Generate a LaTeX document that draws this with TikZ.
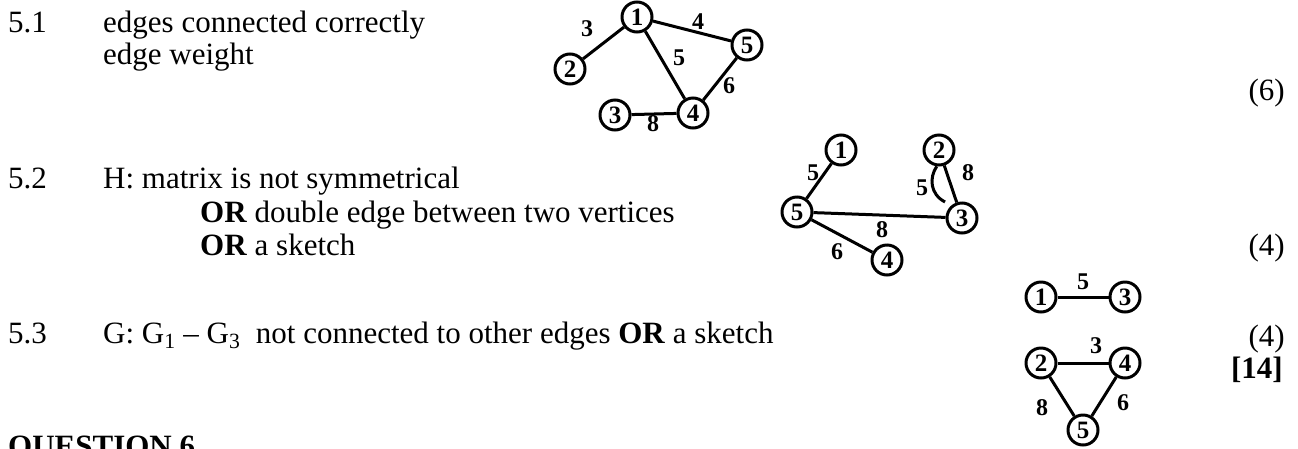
\documentclass[tikz,border=0pt]{standalone}
\usepackage{fontspec}
\setmainfont{Liberation Serif}
\usetikzlibrary{positioning}

\begin{document}
\begin{tikzpicture}[x=1pt,y=-1pt,
    txt/.style={inner sep=0pt,anchor=base west,font=\fontsize{31}{33}\selectfont},
    score/.style={inner sep=0pt,anchor=base east,font=\fontsize{31}{33}\selectfont},
    vtx/.style={circle,draw,line width=3pt,minimum size=30pt,inner sep=0pt,font=\fontsize{25}{25}\selectfont\bfseries},
    wt/.style={inner sep=0pt,font=\fontsize{24}{24}\selectfont\bfseries},
    edge/.style={line width=3pt}
  ]
  \useasboundingbox (0,0) rectangle (1298,448);

  % answer text
  \node[txt] (n51) at (8,32) {5.1};
  \node[txt] (t51a) at (103,32) {edges connected correctly};
  \node[txt] (t51b) at (103,64) {edge weight};
  \node[txt] (n52) at (8,188) {5.2};
  \node[txt] (t52a) at (103,188) {H: matrix is not symmetrical};
  \node[txt] (t52b) at (200,222) {\textbf{OR} double edge between two vertices};
  \node[txt] (t52c) at (200,255) {\textbf{OR} a sketch};
  \node[txt] (n53) at (8,343) {5.3};
  \node[txt] (t53) at (103,343) {G: G\textsubscript{1} – G\textsubscript{3}\ \ not connected to other edges \textbf{OR} a sketch};
  \node[txt,font=\fontsize{31}{33}\selectfont\bfseries] (q6) at (8,456) {QUESTION 6};

  % marks
  \node[score] (m51) at (1285,100) {(6)};
  \node[score] (m52) at (1285,255) {(4)};
  \node[score] (m53) at (1285,346) {(4)};
  \node[score,font=\fontsize{31}{33}\selectfont\bfseries] (tot) at (1283,378) {[14]};

  % graph 5.1
  \node[vtx] (a1) at (637,17) {1};
  \node[vtx] (a2) at (570,69) {2};
  \node[vtx] (a3) at (615,115) {3};
  \node[vtx] (a4) at (693,113) {4};
  \node[vtx] (a5) at (747,45) {5};
  \draw[edge] (a1) -- (a2);
  \draw[edge] (a1) -- (a5);
  \draw[edge] (a1) -- (a4);
  \draw[edge] (a5) -- (a4);
  \draw[edge] (a3) -- (a4);
  \node[wt] (w12) at (587,29) {3};
  \node[wt] (w15) at (698,22) {4};
  \node[wt] (w14) at (679,58) {5};
  \node[wt] (w45) at (729,86) {6};
  \node[wt] (w34) at (653,124) {8};

  % graph 5.2
  \node[vtx] (b1) at (841,150) {1};
  \node[vtx] (b2) at (939,150) {2};
  \node[vtx] (b3) at (962,218) {3};
  \node[vtx] (b4) at (887,260) {4};
  \node[vtx] (b5) at (797,212) {5};
  \coordinate (bend) at (945,202);
  \draw[edge] (b5) -- (b1);
  \draw[edge] (b5) -- (b3);
  \draw[edge] (b5) -- (b4);
  \draw[edge] (b2) -- (b3);
  \draw[edge] (b2.262) .. controls (929,178) and (930,194) .. (bend);
  \node[wt] (v15) at (813,173) {5};
  \node[wt] (v23) at (968,173) {8};
  \node[wt] (v23b) at (922,188) {5};
  \node[wt] (v35) at (882,230) {8};
  \node[wt] (v45) at (837,252) {6};

  % graph 5.3
  \node[vtx] (c1) at (1041,297) {1};
  \node[vtx] (c3) at (1125,297) {3};
  \node[vtx] (c2) at (1041,363) {2};
  \node[vtx] (c4) at (1125,363) {4};
  \node[vtx] (c5) at (1083,430) {5};
  \draw[edge] (c1) -- (c3);
  \draw[edge] (c2) -- (c4);
  \draw[edge] (c2) -- (c5);
  \draw[edge] (c4) -- (c5);
  \node[wt] (u13) at (1083,282) {5};
  \node[wt] (u24) at (1096,346) {3};
  \node[wt] (u25) at (1042,408) {8};
  \node[wt] (u45) at (1123,403) {6};
\end{tikzpicture}
\end{document}
